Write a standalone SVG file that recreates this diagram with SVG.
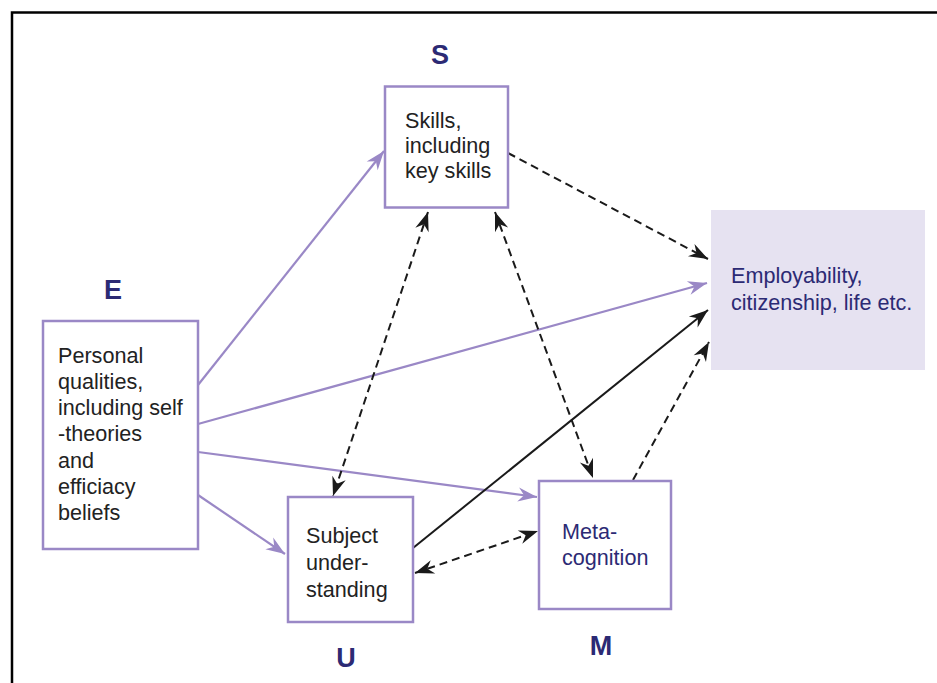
<svg xmlns="http://www.w3.org/2000/svg" width="937" height="683" viewBox="0 0 937 683">
  <style>
    .box { fill: #ffffff; stroke: #9a88c6; stroke-width: 2.5; }
    .outcome { fill: #e6e2f1; stroke: none; }
    .txt { font-family: "Liberation Sans", Arial, sans-serif; font-size: 21.6px; fill: #222222; }
    .navy { fill: #2c2a74; }
    .tag { font-family: "Liberation Sans", Arial, sans-serif; font-size: 27px; font-weight: bold; fill: #2c2a74; text-anchor: middle; }
    .p { stroke: #9a88c6; stroke-width: 2.2; fill: none; marker-end: url(#headP); }
    .k { stroke: #1a1a1a; stroke-width: 2; fill: none; marker-end: url(#headK); }
    .d { stroke: #1a1a1a; stroke-width: 2; fill: none; stroke-dasharray: 8 5; marker-end: url(#headK); }
    .dd { marker-start: url(#headK); }
  </style>
  <defs>
    <marker id="headP" markerUnits="userSpaceOnUse" markerWidth="22" markerHeight="16" viewBox="-20 -8 22 16" refX="0" refY="0" orient="auto-start-reverse">
      <path d="M0,0 L-19,-7 L-13,0 L-19,7 Z" fill="#9a88c6"/>
    </marker>
    <marker id="headK" markerUnits="userSpaceOnUse" markerWidth="22" markerHeight="16" viewBox="-20 -8 22 16" refX="0" refY="0" orient="auto-start-reverse">
      <path d="M0,0 L-19,-7 L-13,0 L-19,7 Z" fill="#1a1a1a"/>
    </marker>
  </defs>

  <!-- outer frame -->
  <rect x="12" y="12.5" width="940" height="690" fill="none" stroke="#000000" stroke-width="2.5"/>

  <!-- connectors -->
  <g id="connectors">
    <line class="p" x1="198" y1="385" x2="384" y2="151"/>
    <line class="p" x1="198" y1="424" x2="707" y2="283"/>
    <line class="p" x1="198" y1="452" x2="537" y2="497"/>
    <line class="p" x1="198" y1="495" x2="285" y2="554"/>
    <line class="k" x1="413" y1="548" x2="708" y2="310"/>
    <line class="d" x1="508" y1="153" x2="708" y2="259"/>
    <line class="d dd" x1="428" y1="212" x2="333" y2="496"/>
    <line class="d dd" x1="495" y1="212" x2="593" y2="478"/>
    <line class="d" x1="633" y1="480" x2="709" y2="342"/>
    <line class="d dd" x1="415" y1="573" x2="538" y2="531"/>
  </g>

  <!-- S: skills -->
  <g id="node-s">
    <rect class="box" x="385" y="86.5" width="123" height="121"/>
    <text class="tag" x="440" y="64">S</text>
    <text class="txt" x="405" y="128">Skills,</text>
    <text class="txt" x="405" y="153">including</text>
    <text class="txt" x="405" y="178">key skills</text>
  </g>

  <!-- E: personal qualities -->
  <g id="node-e">
    <rect class="box" x="43" y="321" width="155" height="228"/>
    <text class="tag" x="113" y="299">E</text>
    <text class="txt" x="58" y="363">Personal</text>
    <text class="txt" x="58" y="389">qualities,</text>
    <text class="txt" x="58" y="415">including self</text>
    <text class="txt" x="58" y="441">-theories</text>
    <text class="txt" x="58" y="468">and</text>
    <text class="txt" x="58" y="494">efficiacy</text>
    <text class="txt" x="58" y="520">beliefs</text>
  </g>

  <!-- U: subject understanding -->
  <g id="node-u">
    <rect class="box" x="288" y="497" width="125" height="125"/>
    <text class="tag" x="346" y="667">U</text>
    <text class="txt" x="306" y="543">Subject</text>
    <text class="txt" x="306" y="570">under-</text>
    <text class="txt" x="306" y="597">standing</text>
  </g>

  <!-- M: metacognition -->
  <g id="node-m">
    <rect class="box" x="539" y="481" width="132" height="128"/>
    <text class="tag" x="601" y="655">M</text>
    <text class="txt navy" x="562" y="539">Meta-</text>
    <text class="txt navy" x="562" y="565">cognition</text>
  </g>

  <!-- outcomes -->
  <g id="node-outcome">
    <rect class="outcome" x="711" y="210" width="214" height="160"/>
    <text class="txt navy" x="731" y="283">Employability,</text>
    <text class="txt navy" x="731" y="310">citizenship, life etc.</text>
  </g>
</svg>
